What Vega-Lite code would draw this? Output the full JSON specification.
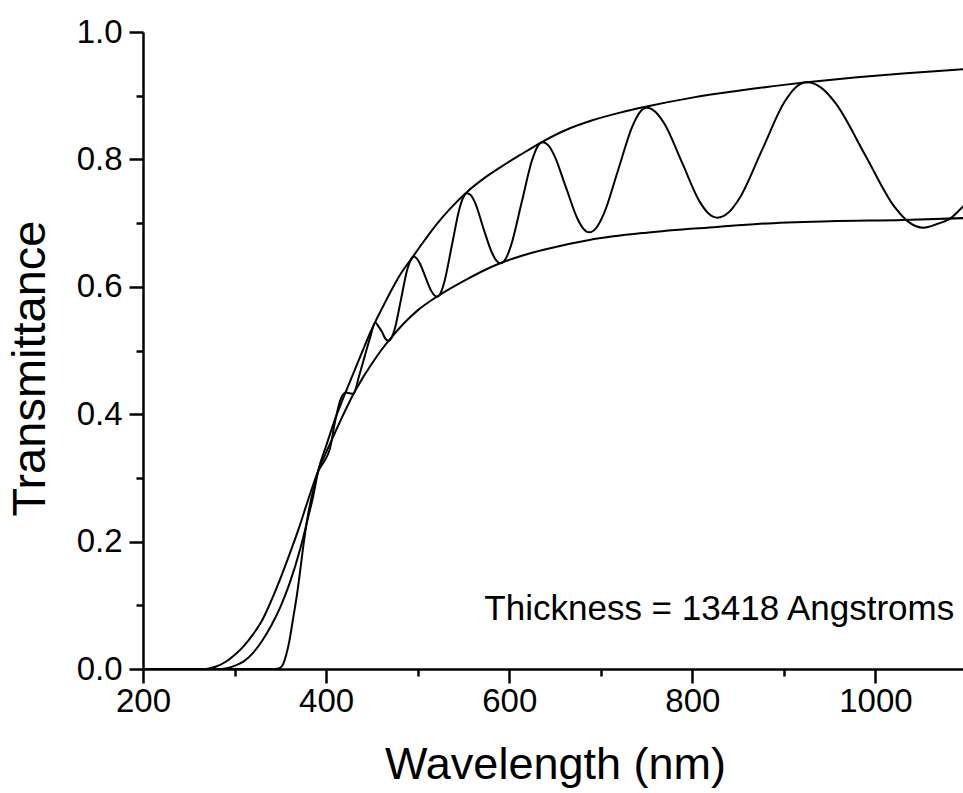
{
  "$schema": "https://vega.github.io/schema/vega-lite/v6.json",
  "width": 824,
  "height": 637,
  "autosize": "none",
  "padding": {"left": 143, "top": 32, "right": 0, "bottom": 124},
  "background": "white",
  "config": {"view": {"stroke": null}, "font": "Liberation Sans"},
  "datasets": {
    "curves": [
      {"curve": "T", "wavelength": 200, "transmittance": 0},
      {"curve": "T", "wavelength": 340, "transmittance": 0},
      {"curve": "T", "wavelength": 348, "transmittance": 0.001},
      {"curve": "T", "wavelength": 352, "transmittance": 0.005},
      {"curve": "T", "wavelength": 356, "transmittance": 0.02},
      {"curve": "T", "wavelength": 360, "transmittance": 0.045},
      {"curve": "T", "wavelength": 364, "transmittance": 0.08},
      {"curve": "T", "wavelength": 368, "transmittance": 0.115},
      {"curve": "T", "wavelength": 372, "transmittance": 0.158},
      {"curve": "T", "wavelength": 375, "transmittance": 0.192},
      {"curve": "T", "wavelength": 380, "transmittance": 0.24},
      {"curve": "T", "wavelength": 386, "transmittance": 0.281},
      {"curve": "T", "wavelength": 391.5, "transmittance": 0.31},
      {"curve": "T", "wavelength": 398, "transmittance": 0.326},
      {"curve": "T", "wavelength": 404, "transmittance": 0.345},
      {"curve": "T", "wavelength": 410, "transmittance": 0.39},
      {"curve": "T", "wavelength": 415, "transmittance": 0.42},
      {"curve": "T", "wavelength": 421.7, "transmittance": 0.434},
      {"curve": "T", "wavelength": 425.5, "transmittance": 0.433},
      {"curve": "T", "wavelength": 429.7, "transmittance": 0.432},
      {"curve": "T", "wavelength": 436, "transmittance": 0.46},
      {"curve": "T", "wavelength": 442, "transmittance": 0.49},
      {"curve": "T", "wavelength": 448, "transmittance": 0.52},
      {"curve": "T", "wavelength": 453.7, "transmittance": 0.544},
      {"curve": "T", "wavelength": 457.5, "transmittance": 0.537},
      {"curve": "T", "wavelength": 461, "transmittance": 0.5295},
      {"curve": "T", "wavelength": 464.5, "transmittance": 0.519},
      {"curve": "T", "wavelength": 468.2, "transmittance": 0.515},
      {"curve": "T", "wavelength": 471.5, "transmittance": 0.52},
      {"curve": "T", "wavelength": 475, "transmittance": 0.534},
      {"curve": "T", "wavelength": 481.9, "transmittance": 0.581},
      {"curve": "T", "wavelength": 488.8, "transmittance": 0.628},
      {"curve": "T", "wavelength": 492.5, "transmittance": 0.642},
      {"curve": "T", "wavelength": 495.6, "transmittance": 0.647},
      {"curve": "T", "wavelength": 498.8, "transmittance": 0.645},
      {"curve": "T", "wavelength": 501.9, "transmittance": 0.638},
      {"curve": "T", "wavelength": 508.3, "transmittance": 0.616},
      {"curve": "T", "wavelength": 514.7, "transmittance": 0.594},
      {"curve": "T", "wavelength": 518, "transmittance": 0.587},
      {"curve": "T", "wavelength": 521, "transmittance": 0.5845},
      {"curve": "T", "wavelength": 525, "transmittance": 0.59},
      {"curve": "T", "wavelength": 529.2, "transmittance": 0.608},
      {"curve": "T", "wavelength": 537.5, "transmittance": 0.666},
      {"curve": "T", "wavelength": 545.7, "transmittance": 0.723},
      {"curve": "T", "wavelength": 550, "transmittance": 0.741},
      {"curve": "T", "wavelength": 553.9, "transmittance": 0.747},
      {"curve": "T", "wavelength": 558.5, "transmittance": 0.743},
      {"curve": "T", "wavelength": 563, "transmittance": 0.731},
      {"curve": "T", "wavelength": 572.2, "transmittance": 0.69},
      {"curve": "T", "wavelength": 581.3, "transmittance": 0.653},
      {"curve": "T", "wavelength": 586, "transmittance": 0.641},
      {"curve": "T", "wavelength": 590.4, "transmittance": 0.637},
      {"curve": "T", "wavelength": 596.2, "transmittance": 0.644},
      {"curve": "T", "wavelength": 602, "transmittance": 0.665},
      {"curve": "T", "wavelength": 613.5, "transmittance": 0.732},
      {"curve": "T", "wavelength": 625, "transmittance": 0.799},
      {"curve": "T", "wavelength": 630.8, "transmittance": 0.82},
      {"curve": "T", "wavelength": 636.6, "transmittance": 0.827},
      {"curve": "T", "wavelength": 643, "transmittance": 0.8216},
      {"curve": "T", "wavelength": 649.3, "transmittance": 0.806},
      {"curve": "T", "wavelength": 662, "transmittance": 0.756},
      {"curve": "T", "wavelength": 674.8, "transmittance": 0.706},
      {"curve": "T", "wavelength": 681.1, "transmittance": 0.691},
      {"curve": "T", "wavelength": 687.5, "transmittance": 0.6855},
      {"curve": "T", "wavelength": 695.3, "transmittance": 0.693},
      {"curve": "T", "wavelength": 703.2, "transmittance": 0.714},
      {"curve": "T", "wavelength": 718.9, "transmittance": 0.783},
      {"curve": "T", "wavelength": 734.5, "transmittance": 0.852},
      {"curve": "T", "wavelength": 742.4, "transmittance": 0.8736},
      {"curve": "T", "wavelength": 750.2, "transmittance": 0.881},
      {"curve": "T", "wavelength": 759.8, "transmittance": 0.8744},
      {"curve": "T", "wavelength": 769.5, "transmittance": 0.856},
      {"curve": "T", "wavelength": 788.8, "transmittance": 0.795},
      {"curve": "T", "wavelength": 808, "transmittance": 0.7337},
      {"curve": "T", "wavelength": 817.7, "transmittance": 0.715},
      {"curve": "T", "wavelength": 827.3, "transmittance": 0.7085},
      {"curve": "T", "wavelength": 839.5, "transmittance": 0.7166},
      {"curve": "T", "wavelength": 851.7, "transmittance": 0.7395},
      {"curve": "T", "wavelength": 876.2, "transmittance": 0.815},
      {"curve": "T", "wavelength": 900.6, "transmittance": 0.89},
      {"curve": "T", "wavelength": 912.8, "transmittance": 0.913},
      {"curve": "T", "wavelength": 925, "transmittance": 0.921},
      {"curve": "T", "wavelength": 940.9, "transmittance": 0.9123},
      {"curve": "T", "wavelength": 956.8, "transmittance": 0.8877},
      {"curve": "T", "wavelength": 988.7, "transmittance": 0.807},
      {"curve": "T", "wavelength": 1020.5, "transmittance": 0.7262},
      {"curve": "T", "wavelength": 1036.4, "transmittance": 0.7015},
      {"curve": "T", "wavelength": 1052.3, "transmittance": 0.6928},
      {"curve": "T", "wavelength": 1068, "transmittance": 0.699},
      {"curve": "T", "wavelength": 1081.5, "transmittance": 0.707},
      {"curve": "T", "wavelength": 1095.7, "transmittance": 0.726},
      {"curve": "T", "wavelength": 1100, "transmittance": 0.732},

      {"curve": "TM", "wavelength": 200, "transmittance": 0},
      {"curve": "TM", "wavelength": 284, "transmittance": 0},
      {"curve": "TM", "wavelength": 290, "transmittance": 0.001},
      {"curve": "TM", "wavelength": 300, "transmittance": 0.005},
      {"curve": "TM", "wavelength": 310, "transmittance": 0.012},
      {"curve": "TM", "wavelength": 320, "transmittance": 0.025},
      {"curve": "TM", "wavelength": 330, "transmittance": 0.044},
      {"curve": "TM", "wavelength": 340, "transmittance": 0.068},
      {"curve": "TM", "wavelength": 350, "transmittance": 0.097},
      {"curve": "TM", "wavelength": 360, "transmittance": 0.134},
      {"curve": "TM", "wavelength": 372, "transmittance": 0.19},
      {"curve": "TM", "wavelength": 380, "transmittance": 0.236},
      {"curve": "TM", "wavelength": 386, "transmittance": 0.272},
      {"curve": "TM", "wavelength": 391.5, "transmittance": 0.312},
      {"curve": "TM", "wavelength": 400, "transmittance": 0.35},
      {"curve": "TM", "wavelength": 410, "transmittance": 0.393},
      {"curve": "TM", "wavelength": 421.7, "transmittance": 0.436},
      {"curve": "TM", "wavelength": 430, "transmittance": 0.465},
      {"curve": "TM", "wavelength": 440, "transmittance": 0.5},
      {"curve": "TM", "wavelength": 448.5, "transmittance": 0.529},
      {"curve": "TM", "wavelength": 453.7, "transmittance": 0.545},
      {"curve": "TM", "wavelength": 460, "transmittance": 0.563},
      {"curve": "TM", "wavelength": 470, "transmittance": 0.591},
      {"curve": "TM", "wavelength": 480, "transmittance": 0.617},
      {"curve": "TM", "wavelength": 495.6, "transmittance": 0.649},
      {"curve": "TM", "wavelength": 505, "transmittance": 0.668},
      {"curve": "TM", "wavelength": 520, "transmittance": 0.697},
      {"curve": "TM", "wavelength": 535, "transmittance": 0.722},
      {"curve": "TM", "wavelength": 553.9, "transmittance": 0.749},
      {"curve": "TM", "wavelength": 575, "transmittance": 0.773},
      {"curve": "TM", "wavelength": 595, "transmittance": 0.792},
      {"curve": "TM", "wavelength": 612, "transmittance": 0.807},
      {"curve": "TM", "wavelength": 636.6, "transmittance": 0.828},
      {"curve": "TM", "wavelength": 660, "transmittance": 0.845},
      {"curve": "TM", "wavelength": 690, "transmittance": 0.861},
      {"curve": "TM", "wavelength": 720, "transmittance": 0.873},
      {"curve": "TM", "wavelength": 750.2, "transmittance": 0.883},
      {"curve": "TM", "wavelength": 800, "transmittance": 0.897},
      {"curve": "TM", "wavelength": 852, "transmittance": 0.908},
      {"curve": "TM", "wavelength": 900, "transmittance": 0.917},
      {"curve": "TM", "wavelength": 925, "transmittance": 0.921},
      {"curve": "TM", "wavelength": 980, "transmittance": 0.929},
      {"curve": "TM", "wavelength": 1030, "transmittance": 0.935},
      {"curve": "TM", "wavelength": 1100, "transmittance": 0.942},

      {"curve": "Tm", "wavelength": 200, "transmittance": 0},
      {"curve": "Tm", "wavelength": 265, "transmittance": 0},
      {"curve": "Tm", "wavelength": 272, "transmittance": 0.001},
      {"curve": "Tm", "wavelength": 280, "transmittance": 0.004},
      {"curve": "Tm", "wavelength": 290, "transmittance": 0.011},
      {"curve": "Tm", "wavelength": 300, "transmittance": 0.022},
      {"curve": "Tm", "wavelength": 310, "transmittance": 0.036},
      {"curve": "Tm", "wavelength": 320, "transmittance": 0.054},
      {"curve": "Tm", "wavelength": 330, "transmittance": 0.076},
      {"curve": "Tm", "wavelength": 340, "transmittance": 0.107},
      {"curve": "Tm", "wavelength": 350, "transmittance": 0.142},
      {"curve": "Tm", "wavelength": 360, "transmittance": 0.18},
      {"curve": "Tm", "wavelength": 370, "transmittance": 0.22},
      {"curve": "Tm", "wavelength": 380, "transmittance": 0.264},
      {"curve": "Tm", "wavelength": 391.5, "transmittance": 0.312},
      {"curve": "Tm", "wavelength": 400, "transmittance": 0.34},
      {"curve": "Tm", "wavelength": 410, "transmittance": 0.372},
      {"curve": "Tm", "wavelength": 420, "transmittance": 0.403},
      {"curve": "Tm", "wavelength": 430, "transmittance": 0.432},
      {"curve": "Tm", "wavelength": 440, "transmittance": 0.457},
      {"curve": "Tm", "wavelength": 448.5, "transmittance": 0.476},
      {"curve": "Tm", "wavelength": 460, "transmittance": 0.5},
      {"curve": "Tm", "wavelength": 468.2, "transmittance": 0.515},
      {"curve": "Tm", "wavelength": 480, "transmittance": 0.535},
      {"curve": "Tm", "wavelength": 488, "transmittance": 0.547},
      {"curve": "Tm", "wavelength": 500, "transmittance": 0.563},
      {"curve": "Tm", "wavelength": 521, "transmittance": 0.5845},
      {"curve": "Tm", "wavelength": 550, "transmittance": 0.609},
      {"curve": "Tm", "wavelength": 590, "transmittance": 0.637},
      {"curve": "Tm", "wavelength": 612, "transmittance": 0.648},
      {"curve": "Tm", "wavelength": 640, "transmittance": 0.659},
      {"curve": "Tm", "wavelength": 687.5, "transmittance": 0.6735},
      {"curve": "Tm", "wavelength": 750, "transmittance": 0.685},
      {"curve": "Tm", "wavelength": 827, "transmittance": 0.694},
      {"curve": "Tm", "wavelength": 874, "transmittance": 0.699},
      {"curve": "Tm", "wavelength": 950, "transmittance": 0.703},
      {"curve": "Tm", "wavelength": 1030, "transmittance": 0.705},
      {"curve": "Tm", "wavelength": 1100, "transmittance": 0.708}
    ],
    "note": [{"label": "Thickness = 13418 Angstroms"}]
  },
  "layer": [
    {
      "data": {"name": "curves"},
      "mark": {"type": "line", "interpolate": "monotone", "color": "black", "strokeWidth": 2, "clip": true},
      "encoding": {
        "x": {
          "field": "wavelength", "type": "quantitative",
          "scale": {"domain": [200, 1100], "nice": false, "zero": false},
          "axis": {
            "title": "Wavelength (nm)",
            "values": [200, 300, 400, 500, 600, 700, 800, 900, 1000, 1100],
            "format": "d",
            "labelExpr": "datum.value % 200 === 0 ? datum.label : ''",
            "tickSize": {"condition": {"test": "datum.value % 200 === 0", "value": 14}, "value": 7},
            "grid": false,
            "domainColor": "black", "domainWidth": 2.5,
            "tickColor": "black", "tickWidth": 2.5,
            "labelFont": "Liberation Sans", "labelFontSize": 33, "labelColor": "black",
            "labelPadding": 2, "labelFlush": false, "labelOverlap": false,
            "titleFont": "Liberation Sans", "titleFontSize": 45, "titleFontWeight": "normal", "titleColor": "black",
            "titlePadding": 24
          }
        },
        "y": {
          "field": "transmittance", "type": "quantitative",
          "scale": {"domain": [0, 1], "nice": false},
          "axis": {
            "title": "Transmittance",
            "values": [0, 0.1, 0.2, 0.3, 0.4, 0.5, 0.6, 0.7, 0.8, 0.9, 1.0],
            "format": ".1f",
            "labelExpr": "round(datum.value * 10) % 2 === 0 ? datum.label : ''",
            "tickSize": {"condition": {"test": "round(datum.value * 10) % 2 === 0", "value": 14}, "value": 7},
            "grid": false,
            "domainColor": "black", "domainWidth": 2.5,
            "tickColor": "black", "tickWidth": 2.5,
            "labelFont": "Liberation Sans", "labelFontSize": 33, "labelColor": "black",
            "labelPadding": 7, "labelOverlap": false, "labelFlush": false,
            "titleFont": "Liberation Sans", "titleFontSize": 47, "titleFontWeight": "normal", "titleColor": "black",
            "titlePadding": 22, "titleY": 336
          }
        },
        "detail": {"field": "curve", "type": "nominal"}
      }
    },
    {
      "data": {"name": "note"},
      "mark": {"type": "text", "align": "right", "baseline": "alphabetic", "fontSize": 35, "font": "Liberation Sans", "color": "black"},
      "encoding": {
        "x": {"datum": 1086, "type": "quantitative"},
        "y": {"datum": 0.077, "type": "quantitative"},
        "text": {"field": "label", "type": "nominal"}
      }
    }
  ]
}
